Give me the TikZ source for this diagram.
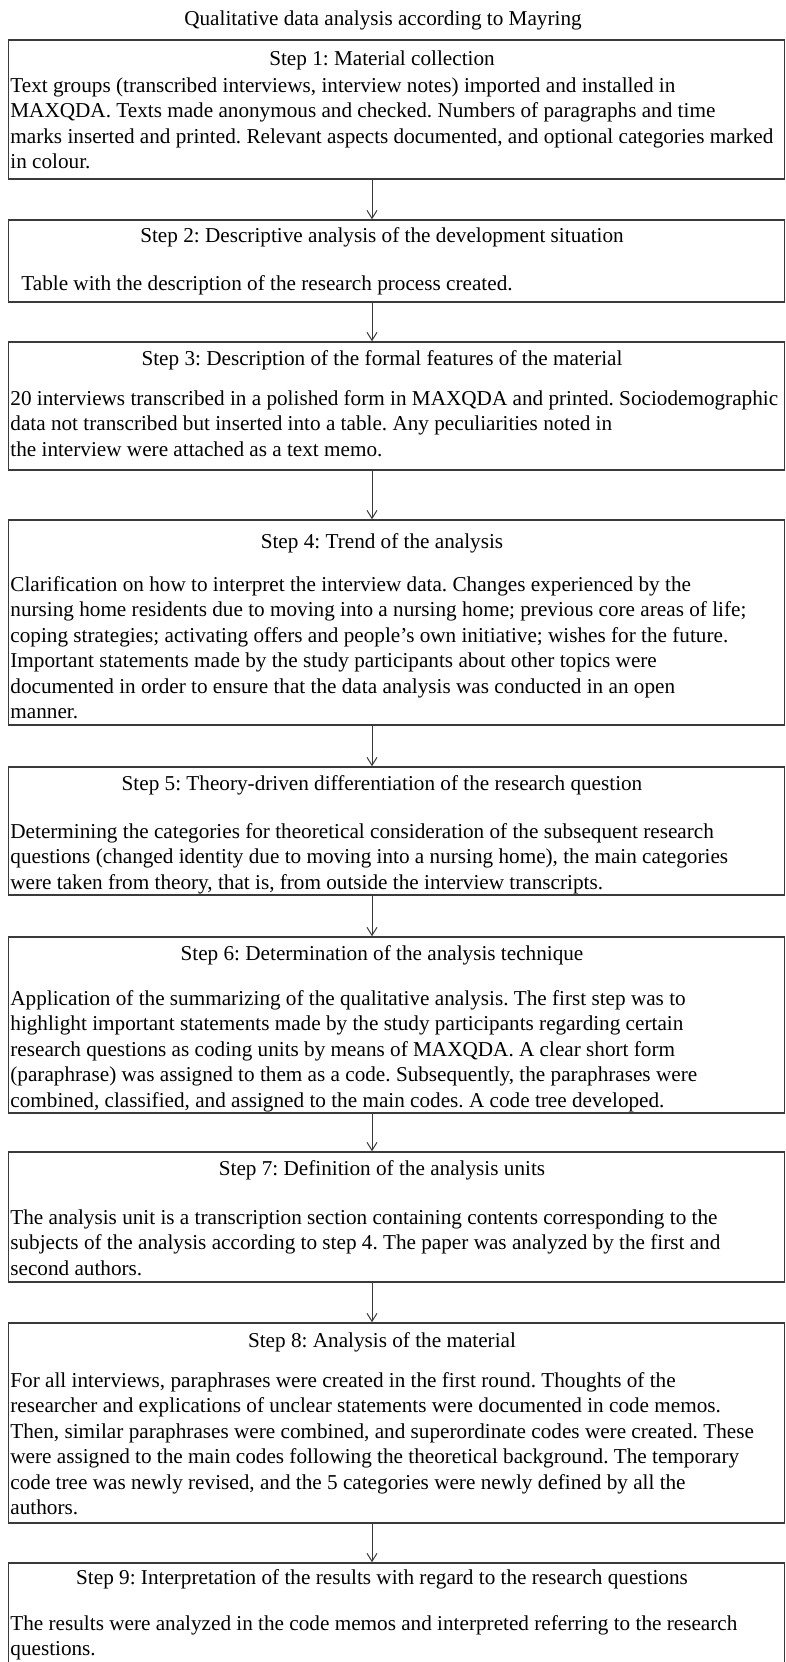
\documentclass[tikz,border=0pt]{standalone}
\usepackage{fontspec}
\setmainfont{Liberation Serif}
\usepackage{xcolor}
\usetikzlibrary{arrows.meta}
\definecolor{linegray}{HTML}{3A3A3A}
\newcommand\stepfont{\fontsize{10.6}{12.75}\selectfont\frenchspacing}
\tikzset{
  stepbox/.style={draw=linegray, line width=0.75pt, minimum width=388pt, inner sep=0pt},
  steptitle/.style={anchor=base, font=\stepfont, inner sep=0pt},
  stepbody/.style={anchor=north west, align=left, font=\stepfont, inner sep=0pt},
  flow/.style={draw=linegray, line width=0.5pt, -{Straight Barb[length=4pt,width=5pt]}}
}

\begin{document}
\begin{tikzpicture}[x=0.5pt,y=-0.5pt]
   \useasboundingbox (0,0) rectangle (786,1662);
   \clip (0,0) rectangle (786,1662);
   \coordinate (mid) at (372,0);
   \node[steptitle] (head) at (383,25) {Qualitative data analysis according to Mayring};
   % step boxes
   \node[stepbox, minimum height=69.5pt] (s1) at (396.5,109.5) {};
   \node[stepbox, minimum height=41pt] (s2) at (396.5,261) {};
   \node[stepbox, minimum height=64pt] (s3) at (396.5,406) {};
   \node[stepbox, minimum height=102.5pt] (s4) at (396.5,622.5) {};
   \node[stepbox, minimum height=64pt] (s5) at (396.5,831) {};
   \node[stepbox, minimum height=88pt] (s6) at (396.5,1025) {};
   \node[stepbox, minimum height=65pt] (s7) at (396.5,1217) {};
   \node[stepbox, minimum height=100pt] (s8) at (396.5,1423) {};
   \node[stepbox, minimum height=78.5pt] (s9) at (396.5,1641.5) {};
   % titles
   \node[steptitle] (t1) at (382,65) {Step 1: Material collection};
   \node[steptitle] (t2) at (382,242) {Step 2: Descriptive analysis of the development situation};
   \node[steptitle] (t3) at (382,365) {Step 3: Description of the formal features of the material};
   \node[steptitle] (t4) at (382,548) {Step 4: Trend of the analysis};
   \node[steptitle] (t5) at (382,790) {Step 5: Theory-driven differentiation of the research question};
   \node[steptitle] (t6) at (382,960) {Step 6: Determination of the analysis technique};
   \node[steptitle] (t7) at (382,1175) {Step 7: Definition of the analysis units};
   \node[steptitle] (t8) at (382,1347) {Step 8: Analysis of the material};
   \node[steptitle] (t9) at (382,1584) {Step 9: Interpretation of the results with regard to the research questions};
   % texts
   \node[stepbody] (b1) at (10,74) {\strut Text groups (transcribed interviews, interview notes) imported and installed in\\
     MAXQDA. Texts made anonymous and checked. Numbers of paragraphs and time\\
     marks inserted and printed. Relevant aspects documented, and optional categories marked\\
     in colour.};
   \node[stepbody] (b2) at (21,272) {\strut Table with the description of the research process created.};
   \node[stepbody] (b3) at (10,387) {\strut 20 interviews transcribed in a polished form in MAXQDA and printed. Sociodemographic\\
     data not transcribed but inserted into a table. Any peculiarities noted in\\
     the interview were attached as a text memo.};
   \node[stepbody] (b4) at (10,573) {\strut Clarification on how to interpret the interview data. Changes experienced by the\\
     nursing home residents due to moving into a nursing home; previous core areas of life;\\
     coping strategies; activating offers and people’s own initiative; wishes for the future.\\
     Important statements made by the study participants about other topics were\\
     documented in order to ensure that the data analysis was conducted in an open\\
     manner.};
   \node[stepbody] (b5) at (10,820) {\strut Determining the categories for theoretical consideration of the subsequent research\\
     questions (changed identity due to moving into a nursing home), the main categories\\
     were taken from theory, that is, from outside the interview transcripts.};
   \node[stepbody] (b6) at (10,987) {\strut Application of the summarizing of the qualitative analysis. The first step was to\\
     highlight important statements made by the study participants regarding certain\\
     research questions as coding units by means of MAXQDA. A clear short form\\
     (paraphrase) was assigned to them as a code. Subsequently, the paraphrases were\\
     combined, classified, and assigned to the main codes. A code tree developed.};
   \node[stepbody] (b7) at (10,1206) {\strut The analysis unit is a transcription section containing contents corresponding to the\\
     subjects of the analysis according to step 4. The paper was analyzed by the first and\\
     second authors.};
   \node[stepbody] (b8) at (10,1369) {\strut For all interviews, paraphrases were created in the first round. Thoughts of the\\
     researcher and explications of unclear statements were documented in code memos.\\
     Then, similar paraphrases were combined, and superordinate codes were created. These\\
     were assigned to the main codes following the theoretical background. The temporary\\
     code tree was newly revised, and the 5 categories were newly defined by all the\\
     authors.};
   \node[stepbody] (b9) at (10,1612) {\strut The results were analyzed in the code memos and interpreted referring to the research\\
     questions.};
   % arrows
   \foreach \a/\b in {s1/s2,s2/s3,s3/s4,s4/s5,s5/s6,s6/s7,s7/s8,s8/s9}
     \draw[flow] (\a.south -| mid) -- (\b.north -| mid);
\end{tikzpicture}
\end{document}
